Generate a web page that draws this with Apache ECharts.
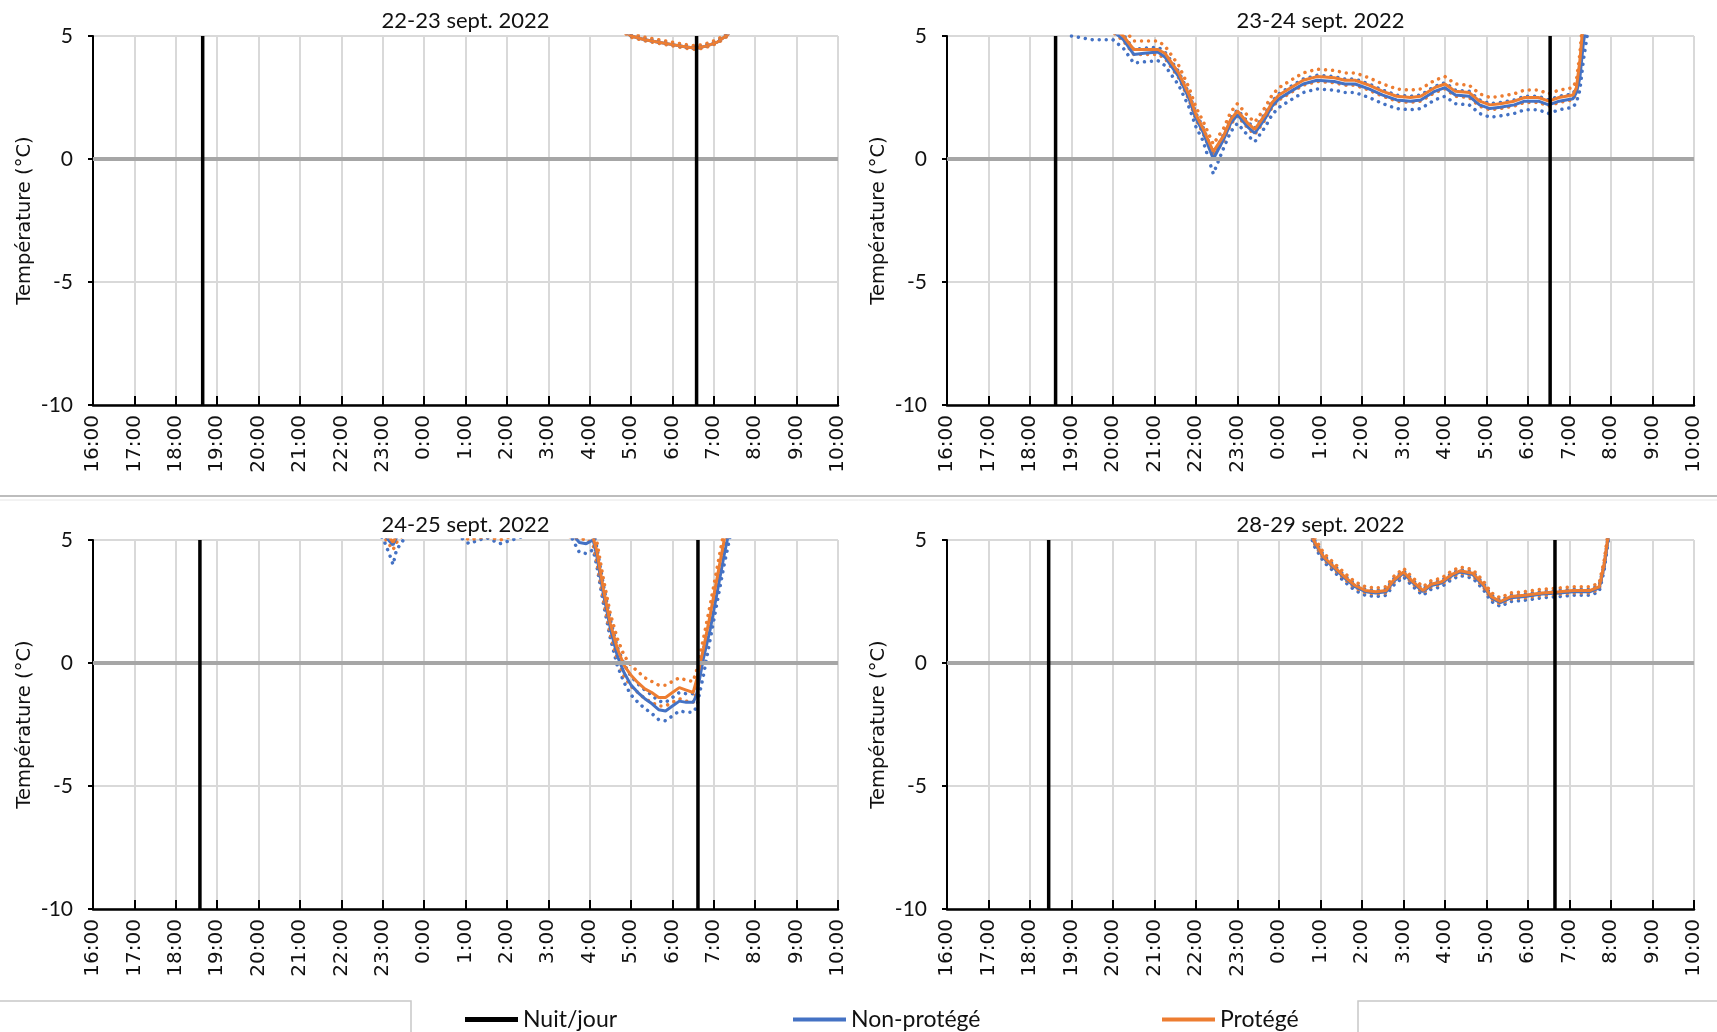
<!DOCTYPE html>
<html><head><meta charset="utf-8">
<script src="https://cdn.jsdelivr.net/npm/echarts@6/dist/echarts.min.js"></script>
<style>html,body{margin:0;padding:0;background:#fff}#chart{width:1717px;height:1032px}</style>
</head><body><div id="chart"></div>
<script>
// ---------- DATA ----------
const tickLabels = ['16:00','17:00','18:00','19:00','20:00','21:00','22:00','23:00','0:00','1:00','2:00','3:00','4:00','5:00','6:00','7:00','8:00','9:00','10:00'];
const panelTitles = ['22-23 sept. 2022','23-24 sept. 2022','24-25 sept. 2022','28-29 sept. 2022'];
const sunset  = ['18:39','18:37','18:35','18:27'];
const sunrise = ['6:35','6:32','6:37','6:39'];
const nightSpan = [-10, 5];

// 22-23 sept.
const t1     = ['4:00','4:30','5:00','5:20','5:40','6:00','6:20','6:35','6:50','7:05','7:20','7:40','8:00'];
const pro1   = [6.5, 5.6, 5.0, 4.85, 4.75, 4.65, 4.55, 4.5, 4.6, 4.75, 5.05, 5.8, 7.0];
const pro1Hi = [6.6, 5.7, 5.1, 4.95, 4.85, 4.75, 4.65, 4.6, 4.7, 4.85, 5.15, 5.9, 7.1];
const pro1Lo = [6.4, 5.5, 4.95, 4.8, 4.7, 4.6, 4.5, 4.45, 4.55, 4.7, 5.0, 5.75, 6.9];
const non1   = [6.5, 5.6, 5.0, 4.85, 4.75, 4.65, 4.55, 4.5, 4.6, 4.75, 5.05, 5.8, 7.0];
const non1Hi = [6.55, 5.65, 5.05, 4.9, 4.8, 4.7, 4.6, 4.55, 4.65, 4.8, 5.1, 5.85, 7.05];
const non1Lo = [6.48, 5.58, 4.98, 4.83, 4.73, 4.63, 4.53, 4.48, 4.58, 4.73, 5.03, 5.78, 6.98];

// 23-24 sept.
const t2 = ['19:00','19:30','20:00','20:15','20:30','20:45','21:05','21:15','21:35','21:50','22:00','22:10','22:25','22:40','22:50','23:00','23:15','23:25','23:40','23:50','0:00','0:20','0:35','0:55','1:20','1:35','1:50','2:10','2:30','2:50','3:10','3:25','3:45','4:00','4:15','4:35','4:50','5:05','5:20','5:40','5:55','6:15','6:30','6:45','7:05','7:10','7:15','7:20','7:30'];
const pro2   = [6.2,5.9,5.35,5.0,4.45,4.45,4.45,4.3,3.5,2.6,1.8,1.25,0.3,0.95,1.6,1.95,1.45,1.2,1.8,2.3,2.6,2.95,3.2,3.35,3.3,3.2,3.2,3.0,2.75,2.55,2.5,2.55,2.9,3.05,2.75,2.7,2.35,2.2,2.25,2.35,2.5,2.5,2.35,2.5,2.6,2.9,4.0,5.6,7.0];
const pro2Hi = [6.5,6.2,5.65,5.3,4.8,4.8,4.8,4.6,3.8,2.9,2.1,1.55,0.6,1.25,1.9,2.25,1.75,1.5,2.1,2.6,2.9,3.25,3.5,3.65,3.6,3.5,3.5,3.3,3.05,2.85,2.8,2.85,3.2,3.35,3.05,3.0,2.65,2.5,2.55,2.65,2.8,2.8,2.65,2.8,2.9,3.2,4.3,5.9,7.3];
const pro2Lo = [6.0,5.7,5.15,4.8,4.25,4.25,4.25,4.1,3.3,2.4,1.6,1.05,0.1,0.75,1.4,1.75,1.25,1.0,1.6,2.1,2.4,2.75,3.0,3.15,3.1,3.0,3.0,2.8,2.55,2.35,2.3,2.35,2.7,2.85,2.55,2.5,2.15,2.0,2.05,2.15,2.3,2.3,2.15,2.3,2.4,2.7,3.8,5.4,6.8];
const non2   = [6.05,5.75,5.2,4.85,4.25,4.3,4.35,4.15,3.35,2.45,1.65,1.1,0.0,0.8,1.45,1.8,1.3,1.05,1.65,2.15,2.45,2.8,3.05,3.2,3.15,3.05,3.05,2.85,2.6,2.4,2.35,2.4,2.75,2.9,2.6,2.55,2.2,2.05,2.1,2.2,2.35,2.35,2.2,2.35,2.45,2.7,3.3,4.7,6.4];
const non2Hi = [6.25,5.95,5.4,5.05,4.45,4.5,4.55,4.35,3.55,2.65,1.85,1.3,0.2,1.0,1.65,2.0,1.5,1.25,1.85,2.35,2.65,3.0,3.25,3.4,3.35,3.25,3.25,3.05,2.8,2.6,2.55,2.6,2.95,3.1,2.8,2.75,2.4,2.25,2.3,2.4,2.55,2.55,2.4,2.55,2.65,2.9,3.5,4.9,6.6];
const non2Lo = [5.0,4.85,4.85,4.5,3.9,3.95,4.0,3.8,3.0,2.1,1.3,0.75,-0.6,0.45,1.1,1.45,0.95,0.7,1.3,1.8,2.1,2.45,2.7,2.85,2.8,2.7,2.7,2.5,2.25,2.05,2.0,2.05,2.4,2.55,2.25,2.2,1.85,1.7,1.75,1.85,2.0,2.0,1.85,2.0,2.1,2.3,2.8,4.0,5.8];

// 24-25 sept.
const t3 = ['22:30','23:00','23:10','23:15','23:20','23:40','0:30','1:05','1:30','1:50','2:30','3:30','3:45','3:55','4:05','4:10','4:20','4:30','4:40','4:50','5:00','5:10','5:20','5:30','5:40','5:50','6:00','6:10','6:20','6:30','6:35','6:45','6:55','7:05','7:15','7:30'];
const pro3   = [6.0,5.5,5.1,4.9,5.2,6.0,6.2,5.3,5.6,5.3,5.8,5.6,5.2,5.3,5.1,4.6,3.0,1.6,0.6,-0.1,-0.5,-0.8,-1.05,-1.2,-1.4,-1.4,-1.2,-1.0,-1.1,-1.2,-0.7,0.6,2.0,3.5,5.0,7.0];
const pro3Hi = [6.4,5.9,5.5,5.3,5.6,6.4,6.6,5.7,6.0,5.7,6.2,6.0,5.6,5.7,5.5,5.0,3.4,2.0,1.0,0.3,-0.1,-0.35,-0.6,-0.75,-0.9,-0.9,-0.75,-0.6,-0.7,-0.75,-0.3,1.0,2.4,3.9,5.4,7.4];
const pro3Lo = [5.55,5.2,4.8,4.6,4.9,5.55,5.75,5.0,5.15,5.0,5.35,5.15,5.0,5.05,4.8,4.15,2.55,1.15,0.15,-0.55,-0.95,-1.2,-1.45,-1.6,-1.75,-1.75,-1.6,-1.45,-1.55,-1.6,-1.15,0.15,1.55,3.05,4.55,6.55];
const non3   = [5.8,5.3,4.95,4.8,5.1,5.8,6.0,5.2,5.5,5.2,5.6,5.4,4.9,4.85,5.0,4.4,2.8,1.4,0.3,-0.4,-0.9,-1.2,-1.45,-1.65,-1.9,-1.95,-1.75,-1.55,-1.6,-1.6,-1.3,0.2,1.4,2.9,4.4,6.4];
const non3Hi = [6.15,5.65,5.3,5.15,5.45,6.15,6.35,5.55,5.85,5.55,5.95,5.75,5.25,5.2,5.35,4.75,3.15,1.75,0.65,-0.05,-0.55,-0.85,-1.1,-1.3,-1.55,-1.6,-1.4,-1.2,-1.25,-1.25,-0.95,0.55,1.75,3.25,4.75,6.75];
const non3Lo = [5.4,5.1,4.4,4.0,4.6,5.4,5.6,4.85,5.1,4.85,5.2,5.3,4.5,4.45,4.6,4.0,2.4,1.0,-0.1,-0.8,-1.3,-1.6,-1.85,-2.05,-2.3,-2.35,-2.15,-1.95,-2.0,-2.0,-1.8,-0.5,1.0,2.5,4.0,6.0];

// 28-29 sept.
const t4 = ['0:40','0:50','1:05','1:20','1:35','1:50','2:05','2:20','2:35','2:45','3:00','3:12','3:28','3:40','3:55','4:10','4:22','4:40','4:55','5:07','5:20','5:35','5:55','6:20','6:45','7:05','7:30','7:43','7:50','7:55','8:05'];
const pro4   = [6.0,5.0,4.3,3.9,3.5,3.15,2.95,2.9,2.95,3.35,3.7,3.35,2.95,3.2,3.3,3.6,3.75,3.65,3.2,2.7,2.5,2.7,2.75,2.85,2.9,2.95,2.95,3.1,4.0,5.0,7.0];
const pro4Hi = [6.15,5.15,4.45,4.05,3.65,3.3,3.1,3.05,3.1,3.5,3.85,3.5,3.1,3.35,3.45,3.75,3.9,3.8,3.35,2.85,2.65,2.85,2.9,3.0,3.05,3.1,3.1,3.25,4.15,5.15,7.15];
const pro4Lo = [5.9,4.9,4.2,3.8,3.4,3.05,2.85,2.8,2.85,3.25,3.6,3.25,2.85,3.1,3.2,3.5,3.65,3.55,3.1,2.6,2.4,2.6,2.65,2.75,2.8,2.85,2.85,3.0,3.9,4.9,6.9];
const non4   = [5.95,4.95,4.25,3.85,3.45,3.1,2.9,2.85,2.9,3.3,3.65,3.3,2.9,3.15,3.25,3.55,3.7,3.6,3.15,2.65,2.45,2.65,2.7,2.8,2.85,2.9,2.9,3.05,3.9,4.9,6.9];
const non4Hi = [6.05,5.05,4.35,3.95,3.55,3.2,3.0,2.95,3.0,3.4,3.75,3.4,3.0,3.25,3.35,3.65,3.8,3.7,3.25,2.75,2.55,2.75,2.8,2.9,2.95,3.0,3.0,3.15,4.0,5.0,7.0];
const non4Lo = [5.8,4.8,4.1,3.7,3.3,2.95,2.75,2.7,2.75,3.15,3.5,3.15,2.75,3.0,3.1,3.4,3.55,3.45,3.0,2.5,2.3,2.5,2.55,2.65,2.7,2.75,2.75,2.9,3.75,4.75,6.75];

// ---------- BUILD ----------
const BLUE = '#4472C4', ORANGE = '#ED7D31';
function toH(s){ const p = s.split(':').map(Number); let v = p[0] + p[1]/60; if (v < 12) v += 24; return v; }
function pts(times, vals){ return times.map((t,i)=>[toH(t), vals[i]]); }

const panels = [
  {t:t1, non:non1, nonHi:non1Hi, nonLo:non1Lo, pro:pro1, proHi:pro1Hi, proLo:pro1Lo},
  {t:t2, non:non2, nonHi:non2Hi, nonLo:non2Lo, pro:pro2, proHi:pro2Hi, proLo:pro2Lo},
  {t:t3, non:non3, nonHi:non3Hi, nonLo:non3Lo, pro:pro3, proHi:pro3Hi, proLo:pro3Lo},
  {t:t4, non:non4, nonHi:non4Hi, nonLo:non4Lo, pro:pro4, proHi:pro4Hi, proLo:pro4Lo}
];
const grids = [
  {left:93, top:36, width:745, height:369},
  {left:947, top:36, width:747, height:369},
  {left:93, top:540, width:745, height:369},
  {left:947, top:540, width:747, height:369}
];
const titleY = [21, 21, 525, 525];

const xAxes = [], yAxes = [], series = [];
grids.forEach((g,i)=>{
  xAxes.push({
    type:'value', gridIndex:i, min:16, max:34, interval:1,
    axisLine:{show:true, onZero:false, lineStyle:{color:'#000', width:2.5}},
    axisTick:{show:true, inside:true, length:9, lineStyle:{color:'#000', width:2}},
    axisLabel:{rotate:90, margin:10, fontFamily:'DejaVu Sans', fontSize:20, color:'#111',
      formatter:(v)=>tickLabels[Math.round(v-16)]},
    splitLine:{show:true, lineStyle:{color:'#d9d9d9', width:2}}
  });
  yAxes.push({
    type:'value', gridIndex:i, min:-10, max:5, interval:5,
    axisLine:{show:true, onZero:false, lineStyle:{color:'#000', width:2}},
    axisTick:{show:true, length:5, lineStyle:{color:'#000', width:2}},
    axisLabel:{margin:20, fontFamily:'Lato', fontSize:21, color:'#111'},
    splitLine:{show:true, lineStyle:{color:'#d9d9d9', width:2}},
    name:'Température (°C)', nameLocation:'middle', nameGap:58,
    nameTextStyle:{fontFamily:'DejaVu Sans', fontSize:19.5, color:'#111'}
  });
  const p = panels[i];
  series.push({type:'line', xAxisIndex:i, yAxisIndex:i, data:[], z:1, silent:true,
    markLine:{silent:true, symbol:['none','none'], label:{show:false},
      lineStyle:{color:'#a6a6a6', width:4, type:'solid'}, data:[{yAxis:0}]}});
  const dotted = (name, vals, color) => ({
    name, type:'line', xAxisIndex:i, yAxisIndex:i, data:pts(p.t, vals),
    symbol:'none', showSymbol:false, z:2, silent:true, clip:true,
    lineStyle:{color, width:3.5, type:[0.01,7], cap:'round'}
  });
  series.push(dotted('Non-protégé (borne inf.)', p.nonLo, BLUE));
  series.push(dotted('Non-protégé (borne sup.)', p.nonHi, BLUE));
  series.push(dotted('Protégé (borne inf.)', p.proLo, ORANGE));
  series.push(dotted('Protégé (borne sup.)', p.proHi, ORANGE));
  series.push({name:'Non-protégé', type:'line', xAxisIndex:i, yAxisIndex:i, data:pts(p.t, p.non),
    symbol:'none', showSymbol:false, z:3, clip:true, color:BLUE, lineStyle:{color:BLUE, width:3}});
  series.push({name:'Protégé', type:'line', xAxisIndex:i, yAxisIndex:i, data:pts(p.t, p.pro),
    symbol:'none', showSymbol:false, z:4, clip:true, color:ORANGE, lineStyle:{color:ORANGE, width:3}});
  [sunset[i], sunrise[i]].forEach(tm=>{
    series.push({name:'Nuit/jour', type:'line', xAxisIndex:i, yAxisIndex:i,
      data:nightSpan.map(v=>[toH(tm), v]), symbol:'none', showSymbol:false, z:6,
      color:'#000', lineStyle:{color:'#000', width:3.5}});
  });
});

const legendBase = {orient:'horizontal', top:1003, itemWidth:53, itemHeight:4, itemGap:10,
  icon:'rect', textStyle:{fontFamily:'Lato', fontSize:23, color:'#111'}, selectedMode:false};
const legends = [
  Object.assign({}, legendBase, {left:460, itemHeight:5, data:['Nuit/jour']}),
  Object.assign({}, legendBase, {left:788, data:['Non-protégé']}),
  Object.assign({}, legendBase, {left:1157, data:['Protégé']})
];

const graphics = [
  {type:'line', shape:{x1:0,y1:496,x2:1717,y2:496}, style:{stroke:'#bdbdbd', lineWidth:2}, silent:true},
  {type:'line', shape:{x1:0,y1:500,x2:1717,y2:500}, style:{stroke:'#e6e6e6', lineWidth:1}, silent:true},
  {type:'polyline', shape:{points:[[0,1001],[411,1001],[411,1032]]}, style:{stroke:'#c8c8c8', lineWidth:1.5, fill:null}, silent:true},
  {type:'polyline', shape:{points:[[1717,1001],[1358,1001],[1358,1032]]}, style:{stroke:'#c8c8c8', lineWidth:1.5, fill:null}, silent:true}
];
panelTitles.forEach((t,i)=>{
  graphics.push({type:'text', x: grids[i].left + grids[i].width/2, y: titleY[i], silent:true,
    style:{text:t, textAlign:'center', textVerticalAlign:'middle', fontFamily:'Lato', fontSize:22, fill:'#111'}});
});

const chart = echarts.init(document.getElementById('chart'), null, {renderer:'canvas'});
chart.setOption({
  animation:false,
  backgroundColor:'#ffffff',
  grid: grids,
  xAxis: xAxes,
  yAxis: yAxes,
  legend: legends,
  graphic: graphics,
  series: series
});
</script></body></html>
